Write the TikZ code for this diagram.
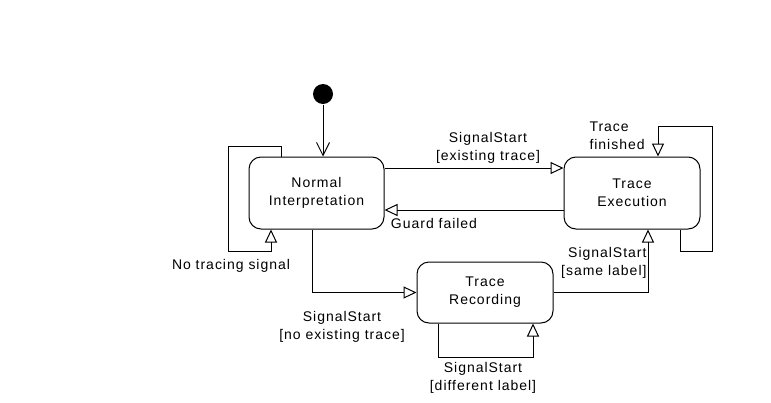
\documentclass[tikz,border=0pt]{standalone}
\usepackage{fontspec}
\setmainfont{Liberation Sans}[LetterSpace=7.0]
\usetikzlibrary{arrows.meta}
\tikzset{
	state/.style={draw, rounded corners=12pt, align=center, inner sep=0pt},
	trans/.style={-{Triangle[open, length=13pt, width=12pt]}},
	init/.style={-{Straight Barb[length=13pt, width=13pt]}},
	lbl/.style={inner sep=0pt, align=center}
}

\begin{document}
\begin{tikzpicture}[x=1pt, y=-1pt, line width=1pt, font=\fontsize{14}{18}\selectfont]
			%%%%% START %%%%%
			
			\useasboundingbox (0, 0) rectangle (771, 402);
			
			\node[circle, fill=black, minimum size=20pt, inner sep=0pt] (start) at (323, 94) {};
			
			\node[state, minimum width=135pt, minimum height=72pt] (normal) at (316.5, 193) {Normal\\Interpretation};
			\node[state, minimum width=136pt, minimum height=72pt] (exec) at (632, 193) {Trace\\Execution};
			\node[state, minimum width=136pt, minimum height=61pt] (record) at (485, 292.5) {Trace\\Recording};
			
			\draw[init] (start) -- (start |- normal.north);
			
			\draw[trans] ([xshift=-35.5pt]normal.north) -- ++(0, -10) -| (228, 251) -| ([xshift=-45.5pt]normal.south);
			\node[lbl] (lnotrace) at (231, 266) {No tracing signal};
			
			\draw[trans] ([yshift=25pt]normal.east) -- ([yshift=25pt]exec.west);
			\node[lbl] (lexisting) at (488, 148) {SignalStart\\{}[existing trace]};
			
			\draw[trans] ([yshift=-17pt]exec.west) -- ([yshift=-17pt]normal.east);
			\node[lbl] (lguard) at (434, 223) {Guard failed};
			
			\draw[trans] ([xshift=48pt]exec.south) -- ++(0, 22) -| (712, 126) -| ([xshift=26pt]exec.north);
			\node[lbl, align=left, anchor=west] (lfinished) at (589, 136) {Trace\\finished};
			
			\draw[trans] ([xshift=-4.5pt]normal.south) |- (record.west);
			\node[lbl] (lnoexisting) at (342, 327) {SignalStart\\{}[no existing trace]};
			
			\draw[trans] (record.east) -| ([xshift=16pt]exec.south);
			\node[lbl, align=right, anchor=east] (lsame) at (647, 263) {SignalStart\\{}[same label]};
			
			\draw[trans] ([xshift=-47pt]record.south) -- ++(0, 34) -| ([xshift=48pt]record.south);
			\node[lbl] (ldifferent) at (483, 378) {SignalStart\\{}[different label]};
			
			%%%%% END %%%%%
\end{tikzpicture}
\end{document}
